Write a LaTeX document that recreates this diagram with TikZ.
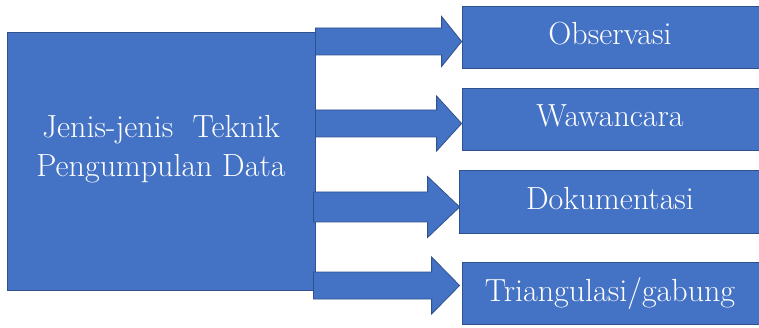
\documentclass[tikz,border=0pt]{standalone}
\usetikzlibrary{calc}
\definecolor{boxfill}{HTML}{4472C4}
\definecolor{boxline}{HTML}{2F528F}
\tikzset{
  box/.style={draw=boxline, fill=boxfill, line width=0.8pt, inner sep=0pt,
    text=white, font=\fontsize{32}{39}\selectfont, align=center},
  itembox/.style={box, text height=22pt, text depth=6pt},
  barrow/.style={draw=boxline, fill=boxfill, line width=0.8pt, line join=miter}
}
% block arrow: start, tip, head length, shaft half width, head half width
\newcommand\blockarrow[5]{%
  \draw[barrow] ($(#1)+(0,-#4)$) -- ($(#2)+(-#3,-#4)$) -- ($(#2)+(-#3,-#5)$)
    -- (#2) -- ($(#2)+(-#3,#5)$) -- ($(#2)+(-#3,#4)$) -- ($(#1)+(0,#4)$) -- cycle;}
\begin{document}
\begin{tikzpicture}[x=1pt, y=-1pt]
\useasboundingbox (0,0) rectangle (759,328);
\clip (0,0) rectangle (759,328);

% source box
\node[box, minimum width=308, minimum height=258] (main) at (161,161) {};
\node[text=white, font=\fontsize{32}{39}\selectfont, align=center, inner sep=0pt]
  (maintext) at (161,149.5) {Jenis-jenis\ \ Teknik\\Pengumpulan Data};

% target boxes (running past the right edge of the page)
\node[itembox, minimum width=330, minimum height=62] (obs) at (627,37) {\hspace*{-34pt}Observasi};
\node[itembox, minimum width=330, minimum height=62] (waw) at (627,119) {\hspace*{-34pt}Wawancara};
\node[itembox, minimum width=333, minimum height=63] (dok) at (625.5,201.5) {\hspace*{-31pt}Dokumentasi};
\node[itembox, minimum width=330, minimum height=62] (tri) at (627,293) {\hspace*{-34pt}Triangulasi/gabung};

% arrow end points
\coordinate (s1) at (main.east |- 0,41.5);
\coordinate (t1) at (obs.west |- 0,41.5);
\coordinate (s2) at (main.east |- 0,123.5);
\coordinate (t2) at (waw.west |- 0,123.5);
\coordinate (s3) at ($(main.east |- 0,207)+(-2,0)$);
\coordinate (t3) at ($(dok.west |- 0,207)+(1,0)$);
\coordinate (s4) at ($(main.east |- 0,285.5)+(-2,0)$);
\coordinate (t4) at ($(tri.west |- 0,285.5)+(-2,0)$);

\blockarrow{s1}{t1}{20}{13.5}{25}
\blockarrow{s2}{t2}{25}{13.5}{27.5}
\blockarrow{s3}{t3}{32}{15}{30.5}
\blockarrow{s4}{t4}{28}{13.5}{28.5}
\end{tikzpicture}
\end{document}
